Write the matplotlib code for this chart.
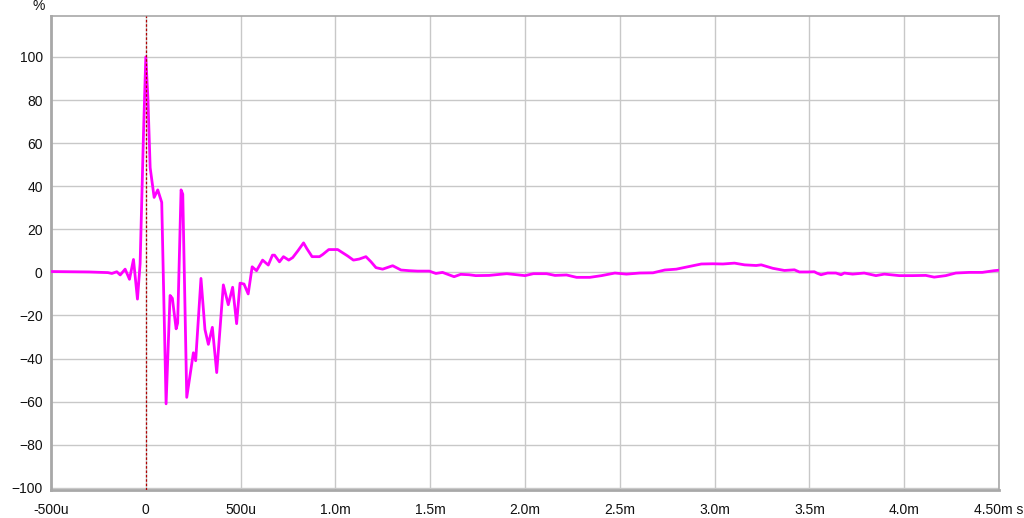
import matplotlib.pyplot as plt

# impulse response, time in ms, amplitude in %
t_ms = [-0.5, -0.4, -0.3, -0.2, -0.179, -0.153, -0.135, -0.109, -0.086, -0.065,
        -0.044, -0.030, -0.012, 0.0, 0.011, 0.023, 0.044, 0.063, 0.084, 0.107,
        0.128, 0.140, 0.160, 0.168, 0.186, 0.195, 0.216, 0.233, 0.251, 0.263,
        0.291, 0.312, 0.330, 0.351, 0.374, 0.409, 0.435, 0.458, 0.479, 0.497,
        0.518, 0.540, 0.561, 0.584, 0.616, 0.646, 0.668, 0.679, 0.705, 0.726,
        0.754, 0.775, 0.802, 0.832, 0.849, 0.877, 0.916, 0.933, 0.965, 1.012,
        1.039, 1.065, 1.095, 1.126, 1.161, 1.188, 1.214, 1.249, 1.302, 1.346,
        1.389, 1.433, 1.495, 1.530, 1.565, 1.626, 1.661, 1.705, 1.740, 1.811,
        1.904, 2.0, 2.044, 2.114, 2.158, 2.219, 2.272, 2.342, 2.404, 2.474,
        2.535, 2.605, 2.675, 2.737, 2.798, 2.868, 2.930, 2.991, 3.044, 3.105,
        3.158, 3.219, 3.246, 3.307, 3.368, 3.421, 3.447, 3.491, 3.526, 3.539,
        3.561, 3.596, 3.640, 3.667, 3.684, 3.728, 3.789, 3.851, 3.895, 3.974,
        4.044, 4.114, 4.158, 4.219, 4.272, 4.342, 4.412, 4.474, 4.5]
amp = [0.4, 0.3, 0.2, -0.1, -0.5, 0.3, -1.2, 1.5, -3.2, 6.0,
       -12.4, 4.0, 65.0, 100.0, 81.0, 48.6, 34.8, 38.3, 32.5, -61.0,
       -10.7, -12.0, -26.2, -23.5, 38.3, 36.3, -58.0, -48.0, -37.3, -41.0,
       -2.8, -26.5, -33.4, -25.5, -46.5, -5.8, -15.0, -6.9, -23.8, -5.0,
       -5.4, -10.0, 2.6, 0.8, 5.7, 3.4, 8.0, 8.0, 4.9, 7.3,
       5.7, 6.9, 10.0, 13.7, 11.1, 7.3, 7.3, 8.3, 10.6, 10.6,
       9.1, 7.6, 5.7, 6.2, 7.3, 4.9, 2.2, 1.5, 3.1, 1.1,
       0.8, 0.6, 0.6, -0.5, 0.0, -2.0, -0.9, -1.1, -1.5, -1.4,
       -0.6, -1.5, -0.6, -0.6, -1.4, -1.2, -2.3, -2.3, -1.5, -0.3,
       -0.8, -0.3, -0.2, 1.1, 1.5, 2.8, 3.9, 4.0, 3.9, 4.3,
       3.5, 3.2, 3.5, 1.9, 0.9, 1.2, 0.2, 0.2, 0.3, -0.3,
       -1.1, -0.3, -0.3, -1.1, -0.3, -0.8, -0.3, -1.5, -0.8, -1.5,
       -1.5, -1.4, -2.2, -1.5, -0.3, 0.0, 0.0, 0.8, 1.0]

x_ticks = [-0.5, 0, 0.5, 1.0, 1.5, 2.0, 2.5, 3.0, 3.5, 4.0, 4.5]
x_labels = ["-500u", "0", "500u", "1.0m", "1.5m", "2.0m", "2.5m", "3.0m", "3.5m", "4.0m", "4.50m s"]
y_ticks = [-100, -80, -60, -40, -20, 0, 20, 40, 60, 80, 100]

plt.rcParams['font.family'] = ['Liberation Sans', 'DejaVu Sans']

fig = plt.figure(figsize=(10.24, 5.18), dpi=100)
ax = fig.add_axes([51/1024, 28/518, 948/1024, 474/518])

ax.plot(t_ms, amp, color="#ff00ff", lw=2, zorder=3)
ax.axvline(0, color="#b00000", lw=0.9, ls=(0, (2, 1.5)), zorder=4)

ax.set_xlim(-0.5, 4.5)
ax.set_ylim(-101, 119)
ax.set_xticks(x_ticks)
ax.set_xticklabels(x_labels)
ax.set_yticks(y_ticks)
ax.grid(True, color="#c8c8c8", lw=1)
ax.tick_params(length=0, labelsize=10, colors="#111111")
ax.tick_params(axis="x", pad=9)
ax.tick_params(axis="y", pad=6)
for s in ax.spines.values():
    s.set_color("#a8a8a8")
    s.set_linewidth(1.2)
ax.spines['left'].set_linewidth(2)
ax.spines['bottom'].set_linewidth(2)

fig.text(39/1024, 1 - 6/518, "%", fontsize=10, ha="center", va="center", color="#111111")

fig.savefig("out.png", dpi=100)
